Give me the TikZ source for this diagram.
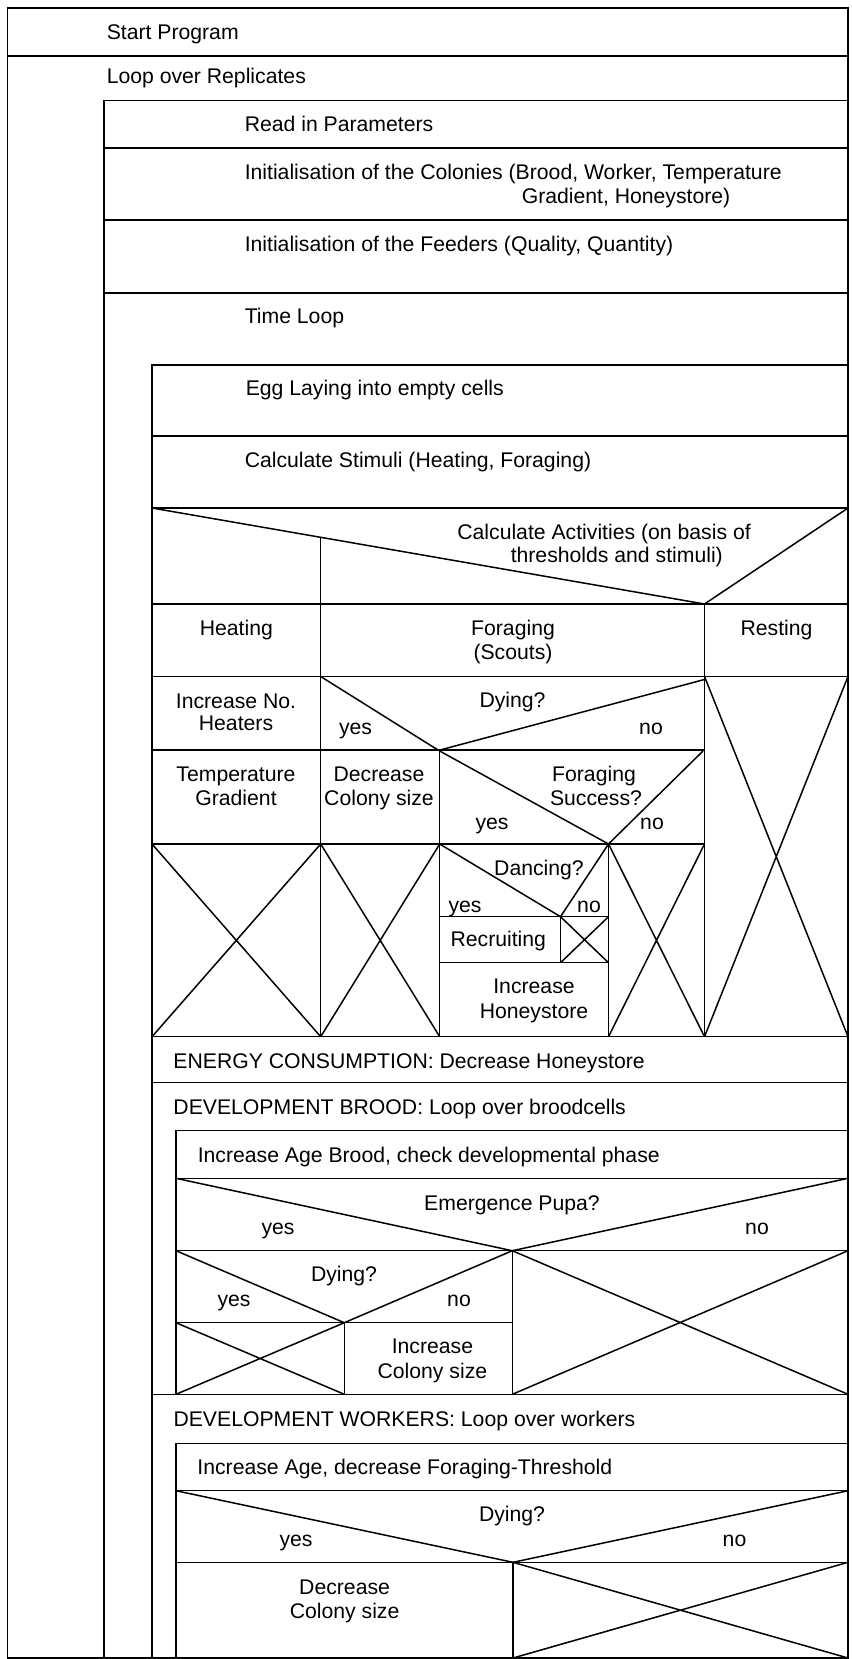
\documentclass[tikz,border=0pt]{standalone}
\usepackage{fontspec}
\setmainfont{Liberation Sans}
\begin{document}
\begin{tikzpicture}[x=1pt,y=-1pt,line width=1.5pt,
  t/.style={inner sep=0pt,font=\fontsize{21.2}{24}\selectfont,text height=15.2pt,text depth=0pt},
  tl/.style={t,anchor=west},
  thick line/.style={line width=2.6pt}]
\useasboundingbox (0,0) rectangle (851,1659);
% ---------- frames ----------
\draw (7.5,8) rectangle (848,1658);
\draw (7.5,56) -- (848,56);
\draw (104,1658) -- (104,100.5) -- (848,100.5);
\draw (104,148) -- (848,148);
\draw (104,220) -- (848,220);
\draw (104,293) -- (848,293);
\draw (152,1658) -- (152,365) -- (848,365);
\draw (152,436) -- (848,436);
\draw (152,508) -- (848,508);
% ---------- case: calculate activities ----------
\draw (152,508) -- (704.5,604) -- (848,508);
\draw (152,604) -- (848,604);
\draw (320.7,537.3) -- (320.7,1036.7);
\draw (704.5,604) -- (704.5,1036.7);
\draw (152,676.5) -- (848,676.5);
% heating column
\draw[thick line] (152,750) -- (704.5,750);
\draw (152,844) -- (704.5,844);
\draw (152,844) -- (320.7,1036.7) (152,1036.7) -- (320.7,844);
% foraging: dying?
\draw (320.7,676.5) -- (438,750);
\draw (440,750) -- (704.5,679.5);
\draw (439.7,750) -- (439.7,1036.7);
\draw (320.7,844) -- (439.7,1036.7) (320.7,1036.7) -- (439.7,844);
% foraging success?
\draw (439.7,751) -- (608.5,844) -- (703,751);
\draw (608.5,844) -- (608.5,1036.7);
% dancing?
\draw (439.7,844) -- (560.5,916.7) -- (608.5,844);
\draw (439.7,916.7) -- (608.5,916.7);
\draw (560.5,916.7) -- (560.5,962.7);
\draw (560.5,916.7) -- (608.5,962.7) (560.5,962.7) -- (608.5,916.7);
\draw (439.7,962.7) -- (608.5,962.7);
\draw (608.5,844) -- (704.5,1036.7) (608.5,1036.7) -- (704.5,844);
% resting
\draw (704.5,676.5) -- (848,1036.7) (704.5,1036.7) -- (848,676.5);
\draw (152,1036.7) -- (848,1036.7);
\draw (152,1082.7) -- (848,1082.7);
% ---------- brood ----------
\draw (176,1394.3) -- (176,1130.7) -- (848,1130.7);
\draw (176,1178.3) -- (848,1178.3);
\draw (176,1178.3) -- (512.3,1250.7) -- (848,1178.3);
\draw (176,1250.7) -- (848,1250.7);
\draw (176,1250.7) -- (344.3,1322.7) -- (512.3,1250.7);
\draw (176,1322.7) -- (512.3,1322.7);
\draw (512.3,1250.7) -- (512.3,1394.3);
\draw (344.3,1322.7) -- (344.3,1394.3);
\draw (176,1322.7) -- (344.3,1394.3) (176,1394.3) -- (344.3,1322.7);
\draw (512.3,1250.7) -- (848,1394.3) (512.3,1394.3) -- (848,1250.7);
\draw (152,1394.3) -- (848,1394.3);
% ---------- workers ----------
\draw (176,1658) -- (176,1443.3) -- (848,1443.3);
\draw (176,1490.7) -- (848,1490.7);
\draw (176,1490.7) -- (513,1562.3) -- (848,1490.7);
\draw (176,1562.3) -- (848,1562.3);
\draw (513,1562.3) -- (513,1658);
\draw (513,1562.3) -- (848,1658) (513,1658) -- (848,1562.3);
% ---------- texts ----------
\node[tl] (start) at (106,32) {Start Program};
\node[tl] (loopRep) at (106,76) {Loop over Replicates};
\node[tl] (readPar) at (244,124) {Read in Parameters};
\node[tl] (initCol1) at (244,172) {Initialisation of the Colonies (Brood, Worker, Temperature};
\node[tl] (initCol2) at (521,196) {Gradient, Honeystore)};
\node[tl] (initFeed) at (244,244) {Initialisation of the Feeders (Quality, Quantity)};
\node[tl] (timeLoop) at (244,316) {Time Loop};
\node[tl] (egg) at (245,388) {Egg Laying into empty cells};
\node[tl] (stim) at (244,460) {Calculate Stimuli (Heating, Foraging)};
\node[tl] (act1) at (456.6,531.7) {Calculate Activities (on basis of};
\node[tl] (act2) at (510,555) {thresholds and stimuli)};
\node[t] (heat) at (236.4,628) {Heating};
\node[t] (forag1) at (513,628) {Foraging};
\node[t] (forag2) at (513,651.7) {(Scouts)};
\node[t] (rest) at (776.5,628) {Resting};
\node[t] (incH1) at (236,700.7) {Increase No.};
\node[t] (incH2) at (236,723) {Heaters};
\node[t] (dying1) at (512.5,700) {Dying?};
\node[t] (dy1yes) at (355.5,727) {yes};
\node[t] (dy1no) at (651,727) {no};
\node[t] (temp1) at (236,774) {Temperature};
\node[t] (temp2) at (236,798) {Gradient};
\node[t] (decC1) at (379,774) {Decrease};
\node[t] (decC2) at (379,798) {Colony size};
\node[t] (fs1) at (594,774) {Foraging};
\node[t] (fs2) at (596,798) {Success?};
\node[t] (fsyes) at (492,822) {yes};
\node[t] (fsno) at (652,822) {no};
\node[t] (danc) at (539,868) {Dancing?};
\node[t] (dayes) at (465,905) {yes};
\node[t] (dano) at (589,905) {no};
\node[t] (recr) at (498.3,939) {Recruiting};
\node[t] (incHS1) at (534,986) {Increase};
\node[t] (incHS2) at (534,1010.7) {Honeystore};
\node[tl] (energy) at (172.7,1060.7) {ENERGY CONSUMPTION: Decrease Honeystore};
\node[tl] (devBrood) at (172.7,1106.7) {DEVELOPMENT BROOD: Loop over broodcells};
\node[tl] (ageBrood) at (197,1155) {Increase Age Brood, check developmental phase};
\node[t] (emerg) at (512,1202.7) {Emergence Pupa?};
\node[t] (emyes) at (278,1227) {yes};
\node[t] (emno) at (757,1227) {no};
\node[t] (dying2) at (344,1274.3) {Dying?};
\node[t] (dy2yes) at (234,1298.5) {yes};
\node[t] (dy2no) at (459,1298.5) {no};
\node[t] (incC1) at (432.4,1346) {Increase};
\node[t] (incC2) at (432.4,1371) {Colony size};
\node[tl] (devWork) at (172.8,1419.3) {DEVELOPMENT WORKERS: Loop over workers};
\node[tl] (ageWork) at (196.7,1466.7) {Increase Age, decrease Foraging-Threshold};
\node[t] (dying3) at (512,1514.3) {Dying?};
\node[t] (dy3yes) at (296,1538.5) {yes};
\node[t] (dy3no) at (734.5,1538.5) {no};
\node[t] (decW1) at (344.6,1586.7) {Decrease};
\node[t] (decW2) at (344.6,1611) {Colony size};
\end{tikzpicture}
\end{document}
